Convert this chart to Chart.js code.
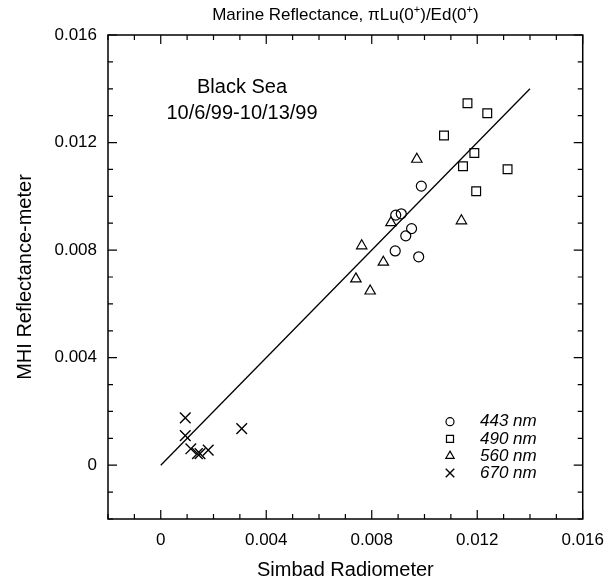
<!DOCTYPE html>
<html>
<head>
<meta charset="utf-8">
<script src="https://cdn.jsdelivr.net/npm/chart.js@4/dist/chart.umd.min.js"></script>
<style>
  body { margin: 0; background: #fff; }
  canvas { display: block; }
</style>
</head>
<body>
<canvas id="myChart" width="615" height="587"></canvas>
<script>
// values
const x443 = [0.00988, 0.00891, 0.00912, 0.00951, 0.00929, 0.00889, 0.00978];
const y443 = [0.01038, 0.00930, 0.00935, 0.00880, 0.00853, 0.00797, 0.00775];
const x490 = [0.01163, 0.01238, 0.01074, 0.01189, 0.01146, 0.01315, 0.01196];
const y490 = [0.01346, 0.01309, 0.01226, 0.01161, 0.01112, 0.01101, 0.01019];
const x560 = [0.00971, 0.00873, 0.01140, 0.00762, 0.00844, 0.00740, 0.00794];
const y560 = [0.01138, 0.00902, 0.00909, 0.00816, 0.00755, 0.00693, 0.00648];
const x670 = [0.00093, 0.00093, 0.00114, 0.00139, 0.00149, 0.00180, 0.00307];
const y670 = [0.00176, 0.00110, 0.00061, 0.00043, 0.00043, 0.00056, 0.00136];
const fitX = [0, 0.014];
const fitY = [0, 0.014];

const xTicks = [0, 0.004, 0.008, 0.012, 0.016];
const yTicks = [0, 0.004, 0.008, 0.012, 0.016];
const seriesNames = ['443 nm', '490 nm', '560 nm', '670 nm'];

const FONT = 'Liberation Sans, Arial, Helvetica, sans-serif';

function pts(xs, ys) {
  return xs.map(function(x, i) { return {x: x, y: ys[i]}; });
}

function fmt(v) {
  return v === 0 ? '0' : v.toFixed(3);
}

const markerBase = {
  type: 'scatter',
  borderColor: '#000',
  backgroundColor: 'rgba(0,0,0,0)',
  borderWidth: 1.2,
  pointBorderWidth: 1.2
};

const data = {
  datasets: [
    Object.assign({}, markerBase, {label: seriesNames[0], data: pts(x443, y443), pointStyle: 'circle', pointRadius: 5}),
    Object.assign({}, markerBase, {label: seriesNames[1], data: pts(x490, y490), pointStyle: 'rect', pointRadius: 6.2}),
    Object.assign({}, markerBase, {label: seriesNames[2], data: pts(x560, y560), pointStyle: 'triangle', pointRadius: 6}),
    Object.assign({}, markerBase, {label: seriesNames[3], data: pts(x670, y670), pointStyle: 'crossRot', pointRadius: 7.5, pointBorderWidth: 1.4}),
    {
      type: 'line',
      label: 'fit',
      data: pts(fitX, fitY),
      borderColor: '#000',
      borderWidth: 1.3,
      pointRadius: 0,
      fill: false,
      tension: 0
    }
  ]
};

// frame and inward ticks on all four sides
const framePlugin = {
  id: 'frame',
  afterDatasetsDraw(chart) {
    const ctx = chart.ctx;
    const a = chart.chartArea;
    const xs = chart.scales.x, ys = chart.scales.y;
    ctx.save();
    ctx.strokeStyle = '#000';
    ctx.lineWidth = 1.5;
    ctx.strokeRect(a.left, a.top, a.right - a.left, a.bottom - a.top);
    ctx.lineWidth = 1.2;
    ctx.beginPath();
    let i, v, p, len;
    for (i = -2; i <= 16; i++) {
      v = i / 1000;
      len = (i % 4 === 0) ? 9 : 5;
      p = xs.getPixelForValue(v);
      ctx.moveTo(p, a.bottom); ctx.lineTo(p, a.bottom - len);
      ctx.moveTo(p, a.top); ctx.lineTo(p, a.top + len);
      p = ys.getPixelForValue(v);
      ctx.moveTo(a.left, p); ctx.lineTo(a.left + len, p);
      ctx.moveTo(a.right, p); ctx.lineTo(a.right - len, p);
    }
    ctx.stroke();
    ctx.restore();
  }
};

// title, annotation and legend inside the plot
const textPlugin = {
  id: 'texts',
  afterDraw(chart) {
    const ctx = chart.ctx;
    const a = chart.chartArea;
    ctx.save();
    ctx.fillStyle = '#000';
    ctx.textBaseline = 'middle';

    // title with superscripts
    const parts = [['Marine Reflectance, \u03c0Lu(0', 0], ['+', 1], [')/Ed(0', 0], ['+', 1], [')', 0]];
    const big = '17px ' + FONT, small = '11px ' + FONT;
    let w = 0;
    parts.forEach(function(pt) { ctx.font = pt[1] ? small : big; w += ctx.measureText(pt[0]).width; });
    let x = (a.left + a.right) / 2 - w / 2;
    const ty = 15;
    ctx.textAlign = 'left';
    parts.forEach(function(pt) {
      ctx.font = pt[1] ? small : big;
      ctx.fillText(pt[0], x, pt[1] ? ty - 5 : ty);
      x += ctx.measureText(pt[0]).width;
    });

    // annotation
    ctx.font = '20px ' + FONT;
    ctx.textAlign = 'center';
    ctx.fillText('Black Sea', 242, 87);
    ctx.fillText('10/6/99-10/13/99', 242, 113);

    // legend
    ctx.font = 'italic 17px ' + FONT;
    ctx.textAlign = 'left';
    const rowY = [421.7, 438.8, 455.9, 473];
    for (let i = 0; i < 4; i++) {
      const ds = chart.data.datasets[i];
      ctx.strokeStyle = '#000';
      ctx.fillStyle = 'rgba(0,0,0,0)';
      ctx.lineWidth = ds.pointBorderWidth;
      Chart.helpers.drawPoint(ctx, {
        pointStyle: ds.pointStyle,
        radius: ds.pointRadius * 0.8,
        rotation: 0,
        borderWidth: ds.pointBorderWidth
      }, 450, rowY[i]);
      ctx.fillStyle = '#000';
      ctx.fillText(ds.label, 480, rowY[i]);
    }
    ctx.restore();
  }
};

window.onload = function() {
  const ctx = document.getElementById('myChart');

  const config = {
    type: 'scatter',
    data: data,
    plugins: [framePlugin, textPlugin],
    options: {
      responsive: false,
      animation: false,
      layout: {padding: {left: 0, right: 24, top: 35, bottom: 0}},
      plugins: {legend: {display: false}, tooltip: {enabled: false}},
      scales: {
        x: {
          type: 'linear',
          min: -0.002,
          max: 0.016,
          afterFit: function(s) { s.height = 68; },
          afterBuildTicks: function(s) { s.ticks = xTicks.map(function(v) { return {value: v}; }); },
          grid: {display: false, drawTicks: false},
          border: {display: false},
          ticks: {
            padding: 11,
            color: '#000',
            font: {family: FONT, size: 17},
            maxRotation: 0,
            callback: fmt
          },
          title: {
            display: true,
            text: 'Simbad Radiometer',
            color: '#000',
            font: {family: FONT, size: 20},
            padding: {top: 0, bottom: 5}
          }
        },
        y: {
          type: 'linear',
          min: -0.002,
          max: 0.016,
          afterFit: function(s) { s.width = 108; },
          afterBuildTicks: function(s) { s.ticks = yTicks.map(function(v) { return {value: v}; }); },
          grid: {display: false, drawTicks: false},
          border: {display: false},
          ticks: {
            padding: 11,
            color: '#000',
            font: {family: FONT, size: 17},
            callback: fmt
          },
          title: {
            display: true,
            text: 'MHI Reflectance-meter',
            color: '#000',
            font: {family: FONT, size: 20},
            padding: {top: 13, bottom: 0}
          }
        }
      }
    }
  };

  new Chart(ctx, config);
};
</script>
</body>
</html>
